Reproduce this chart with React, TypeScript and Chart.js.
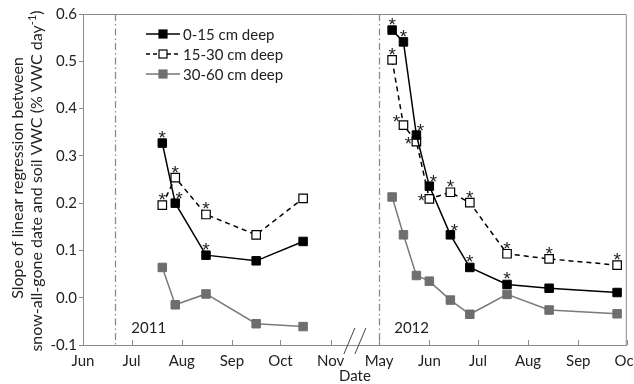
import { useEffect, useRef } from 'react';
import { Chart, registerables } from 'chart.js';
Chart.register(...registerables);

// ---- data ----
const seriesLabels = ['0-15 cm deep', '15-30 cm deep', '30-60 cm deep'];
const yearLabels = ['2011', '2012'];
const dates2011 = ['2011-07-20', '2011-07-28', '2011-08-16', '2011-09-16', '2011-10-15'];
const dates2012 = ['2012-05-09', '2012-05-16', '2012-05-24', '2012-06-01', '2012-06-14', '2012-06-26', '2012-07-19', '2012-08-14', '2012-09-25'];
const shallow2011 = [0.327, 0.2, 0.09, 0.078, 0.119];
const middle2011 = [0.196, 0.254, 0.176, 0.133, 0.21];
const deep2011 = [0.064, -0.015, 0.008, -0.055, -0.061];
const shallow2012 = [0.566, 0.541, 0.344, 0.236, 0.133, 0.064, 0.028, 0.02, 0.011];
const middle2012 = [0.503, 0.365, 0.33, 0.209, 0.223, 0.201, 0.093, 0.082, 0.069];
const deep2012 = [0.213, 0.133, 0.047, 0.035, -0.005, -0.035, 0.007, -0.026, -0.034];
// significance (asterisk) flags
const sigShallow2011 = [true, true, true, false, false];
const sigMiddle2011 = [true, true, true, false, false];
const sigDeep2011 = [false, false, false, false, false];
const sigShallow2012 = [true, true, true, true, true, true, true, false, false];
const sigMiddle2012 = [true, true, true, true, true, true, true, true, true];
const sigDeep2012 = [false, false, false, false, false, false, false, false, false];
const snowGoneDates = ['2011-06-21', '2012-05-01'];
const tickDates = ['2011-06-01', '2011-07-01', '2011-08-01', '2011-09-01', '2011-10-01', '2011-11-01',
  '2012-05-01', '2012-06-01', '2012-07-01', '2012-08-01', '2012-09-01', '2012-10-01'];
const tickLabels = ['Jun', 'Jul', 'Aug', 'Sep', 'Oct', 'Nov', 'May', 'Jun', 'Jul', 'Aug', 'Sep', 'Oct'];
const yTicks = [-0.1, 0, 0.1, 0.2, 0.3, 0.4, 0.5, 0.6];

// ---- broken date axis mapping (Nov 2011 -> May 2012 compressed to one month) ----
const DAY = 86400000;
const START_2011 = Date.UTC(2011, 5, 1);
const END_2011 = Date.UTC(2011, 10, 1);
const START_2012 = Date.UTC(2012, 4, 1);
const BREAK_GAP = 30;
function toAxis(d: string): number {
  const t = Date.parse(d + 'T00:00:00Z');
  if (t < START_2012) return (t - START_2011) / DAY;
  return (END_2011 - START_2011) / DAY + BREAK_GAP + (t - START_2012) / DAY;
}
const breakPos = (END_2011 - START_2011) / DAY + BREAK_GAP / 2;

function build(d1: string[], v1: number[], d2: string[], v2: number[]) {
  return [
    ...d1.map((d, i) => ({ x: toAxis(d), y: v1[i] })),
    { x: breakPos, y: null as any },
    ...d2.map((d, i) => ({ x: toAxis(d), y: v2[i] })),
  ];
}
const sigs = [
  [...sigShallow2011, false, ...sigShallow2012],
  [...sigMiddle2011, false, ...sigMiddle2012],
  [...sigDeep2011, false, ...sigDeep2012],
];
// asterisk placement styles: u = above, r = above-right, l = left, ul = above-left
const starPlace = [
  ['u', 'r', 'u', 'u', 'u', '', 'u', 'u', 'r', 'r', 'r', 'u', 'u', 'u', 'u'],
  ['u', 'u', 'u', 'u', 'u', '', 'u', 'ul', 'l', 'l', 'u', 'u', 'u', 'u', 'u'],
  [],
];

const FONT = 'Lato, "Open Sans", sans-serif';
const AXIS_COLOR = '#8a8a8a';
const TEXT = '#222';

const overlayPlugin = {
  id: 'overlay',
  beforeDatasetsDraw(chart: any) {
    const { ctx, chartArea: a, scales } = chart;
    const x = scales.x;
    ctx.save();
    ctx.strokeStyle = '#8a8a8a';
    ctx.lineWidth = 1.3;
    ctx.setLineDash([7, 3, 1.5, 3]);
    snowGoneDates.forEach((d) => {
      const px = Math.round(x.getPixelForValue(toAxis(d))) + 0.5;
      ctx.beginPath();
      ctx.moveTo(px, a.top);
      ctx.lineTo(px, a.bottom);
      ctx.stroke();
    });
    ctx.restore();
  },
  afterDatasetsDraw(chart: any) {
    const { ctx, chartArea: a, scales } = chart;
    const x = scales.x;
    ctx.save();
    // top and right frame
    ctx.strokeStyle = AXIS_COLOR;
    ctx.lineWidth = 1;
    ctx.setLineDash([]);
    ctx.beginPath();
    ctx.moveTo(a.left, a.top + 0.5);
    ctx.lineTo(a.right - 0.5, a.top + 0.5);
    ctx.lineTo(a.right - 0.5, a.bottom);
    ctx.stroke();
    // inward x ticks
    x.ticks.forEach((t: any) => {
      const px = Math.round(x.getPixelForValue(t.value)) + 0.5;
      ctx.beginPath();
      ctx.moveTo(px, a.bottom);
      ctx.lineTo(px, a.bottom - 5);
      ctx.stroke();
    });
    // axis break marks
    const bx = x.getPixelForValue(breakPos);
    ctx.strokeStyle = '#444';
    ctx.lineWidth = 1;
    [-5.5, 5.5].forEach((o) => {
      ctx.beginPath();
      ctx.moveTo(bx + o - 5.5, a.bottom + 9);
      ctx.lineTo(bx + o + 5.5, a.bottom - 17);
      ctx.stroke();
    });
    // asterisks
    ctx.fillStyle = TEXT;
    ctx.font = '19px "Liberation Sans", sans-serif';
    ctx.textAlign = 'center';
    ctx.textBaseline = 'alphabetic';
    chart.data.datasets.forEach((_ds: any, di: number) => {
      const meta = chart.getDatasetMeta(di);
      meta.data.forEach((pt: any, i: number) => {
        if (!sigs[di][i]) return;
        const p = starPlace[di][i] || 'u';
        let dx = 0, dy = -10;
        if (p === 'r') { dx = 4; dy = -9; }
        if (p === 'l') { dx = -8; dy = -3; }
        if (p === 'ul') { dx = -7; dy = -8; }
        ctx.fillText('*', pt.x + dx, pt.y + dy + 11);
      });
    });
    // year labels
    ctx.fillStyle = TEXT;
    ctx.font = `15px ${FONT}`;
    ctx.textAlign = 'left';
    ctx.textBaseline = 'middle';
    ctx.fillText(yearLabels[0], x.getPixelForValue(toAxis('2011-06-21')) + 16, a.bottom - 17);
    ctx.fillText(yearLabels[1], x.getPixelForValue(toAxis('2012-05-01')) + 15, a.bottom - 17);
    // legend
    const styles = [
      { line: '#000', dash: [] as number[], fill: '#000', stroke: '#000' },
      { line: '#000', dash: [4, 3], fill: '#fff', stroke: '#000' },
      { line: '#777', dash: [] as number[], fill: '#707070', stroke: '#707070' },
    ];
    ctx.font = `15px ${FONT}`;
    seriesLabels.forEach((lab, i) => {
      const y = 34 + i * 20;
      const s = styles[i];
      ctx.strokeStyle = s.line;
      ctx.lineWidth = 1.5;
      ctx.setLineDash(s.dash);
      ctx.beginPath();
      ctx.moveTo(146, y);
      ctx.lineTo(180, y);
      ctx.stroke();
      ctx.setLineDash([]);
      ctx.fillStyle = s.fill;
      ctx.strokeStyle = s.stroke;
      ctx.lineWidth = 1.2;
      ctx.fillRect(159, y - 4, 8, 8);
      ctx.strokeRect(159, y - 4, 8, 8);
      ctx.fillStyle = TEXT;
      ctx.textAlign = 'left';
      ctx.textBaseline = 'middle';
      ctx.fillText(lab, 183, y + 1);
    });
    // x title
    ctx.textAlign = 'center';
    ctx.fillText('Date', (a.left + a.right) / 2, 376);
    // y title (rotated, with superscript)
    ctx.translate(0, 181);
    ctx.rotate(-Math.PI / 2);
    ctx.textAlign = 'center';
    ctx.font = `16px ${FONT}`;
    ctx.fillText('Slope of linear regression between', 3, 18);
    const main = 'snow-all-gone date and soil VWC (% VWC day';
    const sup = '-1';
    const end = ')';
    const w1 = ctx.measureText(main).width;
    const w3 = ctx.measureText(end).width;
    ctx.font = `11px ${FONT}`;
    const w2 = ctx.measureText(sup).width;
    const total = w1 + w2 + w3;
    let sx = -total / 2;
    ctx.textAlign = 'left';
    ctx.font = `16px ${FONT}`;
    ctx.fillText(main, sx, 37);
    sx += w1;
    ctx.font = `11px ${FONT}`;
    ctx.fillText(sup, sx, 32);
    sx += w2;
    ctx.font = `16px ${FONT}`;
    ctx.fillText(end, sx, 37);
    ctx.restore();
  },
};

export default function App() {
  const ref = useRef<HTMLCanvasElement>(null);
  useEffect(() => {
    document.body.style.margin = '0';
    const canvas = ref.current!;
    const chart = new Chart(canvas, {
      type: 'line',
      data: {
        datasets: [
          {
            label: seriesLabels[0],
            data: build(dates2011, shallow2011, dates2012, shallow2012),
            borderColor: '#000',
            borderWidth: 1.5,
            pointStyle: 'rect',
            pointRadius: 6,
            pointBackgroundColor: '#000',
            pointBorderColor: '#000',
            pointBorderWidth: 1,
            spanGaps: false,
          },
          {
            label: seriesLabels[1],
            data: build(dates2011, middle2011, dates2012, middle2012),
            borderColor: '#000',
            borderWidth: 1.5,
            borderDash: [5, 4],
            pointStyle: 'rect',
            pointRadius: 6,
            pointBackgroundColor: '#fff',
            pointBorderColor: '#000',
            pointBorderWidth: 1.2,
            spanGaps: false,
          },
          {
            label: seriesLabels[2],
            data: build(dates2011, deep2011, dates2012, deep2012),
            borderColor: '#7a7a7a',
            borderWidth: 1.5,
            pointStyle: 'rect',
            pointRadius: 6,
            pointBackgroundColor: '#6e6e6e',
            pointBorderColor: '#6e6e6e',
            pointBorderWidth: 1,
            spanGaps: false,
          },
        ] as any,
      },
      options: {
        animation: false,
        responsive: false,
        layout: { padding: { top: 14, right: 3, left: 0, bottom: 0 } },
        plugins: { legend: { display: false }, tooltip: { enabled: false } },
        scales: {
          x: {
            type: 'linear',
            min: toAxis(tickDates[0]),
            max: toAxis(tickDates[tickDates.length - 1]),
            grid: { display: false, drawTicks: false, tickLength: 0 },
            border: { display: true, color: AXIS_COLOR, width: 1 },
            afterBuildTicks: (axis: any) => {
              axis.ticks = tickDates.map((d) => ({ value: toAxis(d) }));
            },
            afterFit: (axis: any) => {
              axis.height = 39;
              axis.paddingLeft = 0;
              axis.paddingRight = 0;
            },
            ticks: {
              autoSkip: false,
              maxRotation: 0,
              padding: 7,
              color: TEXT,
              font: { family: FONT, size: 15 },
              callback: (_v: any, i: number) => tickLabels[i],
            },
          },
          y: {
            min: -0.1,
            max: 0.6,
            grid: { drawOnChartArea: false, drawTicks: true, tickLength: 4, color: AXIS_COLOR },
            border: { display: true, color: AXIS_COLOR, width: 1 },
            afterBuildTicks: (axis: any) => {
              axis.ticks = yTicks.map((v) => ({ value: v }));
            },
            afterFit: (axis: any) => {
              axis.width = 83;
            },
            ticks: {
              padding: 2,
              color: TEXT,
              font: { family: FONT, size: 15 },
              callback: (v: any) => Number(v).toFixed(1),
            },
          },
        },
      },
      plugins: [overlayPlugin],
    });
    return () => chart.destroy();
  }, []);
  return (
    <div style={{ width: 634, height: 384 }}>
      <canvas ref={ref} width={634} height={384} />
    </div>
  );
}
